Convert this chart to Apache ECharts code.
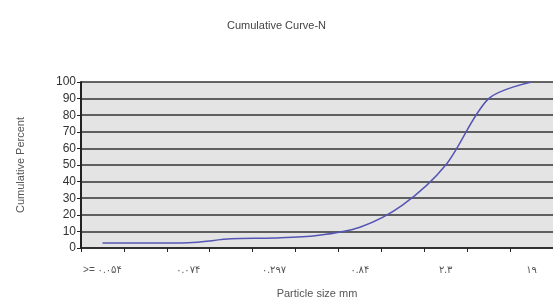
<!DOCTYPE html>
<html>
<head>
<meta charset="utf-8">
<script src="https://cdn.jsdelivr.net/npm/echarts@6/dist/echarts.min.js"></script>
<style>
  html, body { margin: 0; padding: 0; background: #fff; }
  #chart { width: 553px; height: 308px; }
</style>
</head>
<body>
<div id="chart"></div>
<script>
const FONT = '"Liberation Sans", "DejaVu Sans", sans-serif';

// sieve sizes (mm), only every other one is labelled on the axis
const sizes = ['>= ۰.۰۵۴', '۰.۰۶۲', '۰.۰۷۴', '۰.۱۴۹', '۰.۲۹۷', '۰.۴۲', '۰.۸۴', '۱.۱۹', '۲.۳', '۴.۷۶', '۱۹'];
const cumulative = [3, 3, 3.2, 5.5, 6, 7.5, 12.5, 26, 50, 90, 100];
const yTicks = [0, 10, 20, 30, 40, 50, 60, 70, 80, 90, 100];

const chart = echarts.init(document.getElementById('chart'));
chart.setOption({
  animation: false,
  backgroundColor: '#fff',
  title: {
    text: 'Cumulative Curve-N',
    left: 'center', top: 15,
    textStyle: { fontFamily: FONT, fontSize: 11, fontWeight: 'normal', color: '#444' }
  },
  grid: {
    left: 81, top: 82, width: 480, height: 166,
    show: true, backgroundColor: '#e4e4e4', borderWidth: 0
  },
  xAxis: {
    type: 'category',
    data: sizes,
    boundaryGap: true,
    name: 'Particle size mm',
    nameLocation: 'middle', nameGap: 40,
    nameTextStyle: { fontFamily: FONT, fontSize: 11, color: '#555' },
    axisLine: { lineStyle: { color: '#222', width: 1.5 } },
    axisTick: { show: true, length: 4, interval: 0, lineStyle: { color: '#222' } },
    axisLabel: { interval: 1, margin: 17, fontFamily: FONT, fontSize: 10, color: '#555' },
    splitLine: { show: false }
  },
  yAxis: {
    type: 'value',
    min: yTicks[0], max: yTicks[yTicks.length - 1], interval: 10,
    name: 'Cumulative Percent',
    nameLocation: 'middle', nameGap: 55, nameRotate: 90,
    nameTextStyle: { fontFamily: FONT, fontSize: 11, color: '#555' },
    axisLine: { show: true, lineStyle: { color: '#222', width: 2 } },
    axisTick: { show: true, length: 4, lineStyle: { color: '#222' } },
    axisLabel: { margin: 5, fontFamily: FONT, fontSize: 12, color: '#333' },
    splitLine: { show: true, lineStyle: { color: '#333', width: 1.6 } }
  },
  series: [{
    type: 'line',
    data: cumulative,
    smooth: 0.3,
    symbol: 'none',
    lineStyle: { color: '#5555b5', width: 1.5 }
  }]
});
</script>
</body>
</html>
